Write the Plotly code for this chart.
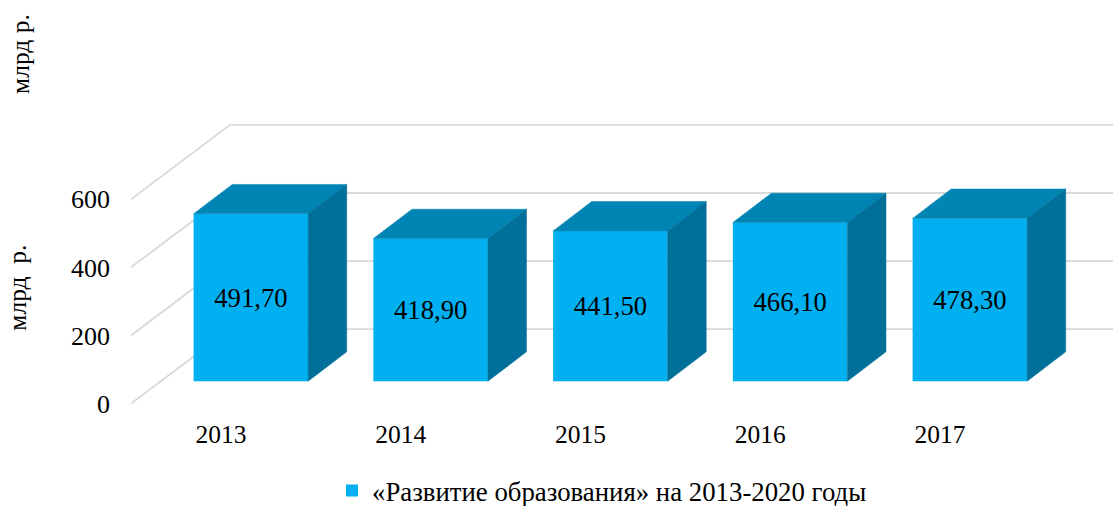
import plotly.graph_objects as go

categories = ["2013", "2014", "2015", "2016", "2017"]
values = [491.7, 418.9, 441.5, 466.1, 478.3]
labels = ["491,70", "418,90", "441,50", "466,10", "478,30"]
y_ticks = [0, 200, 400, 600]
series_name = "«Развитие образования» на 2013-2020 годы"
axis_title = "млрд  р."
extra_title = "млрд р."

FONT = "Liberation Serif"
FRONT, TOP, SIDE, GRID = "#00B0F0", "#0084B4", "#00709B", "#D9D9D9"

# pseudo-3D projection, in axis units
W, H = 1113, 506
PX_X, PX_Y = 179.75, 204.5 / 600
L, T_Y, B_Y = 131, 121.1, 407.4
wall_dx, wall_dy = 99 / PX_X, 74.5 / PX_Y
bar_shift, bar_base = 30 / PX_X, 65.7
bar_w, depth_dx, depth_dy = 0.637, 38.6 / PX_X, 86.3

xs = list(range(len(categories)))
centers = [x + bar_shift for x in xs]
x_range = [-0.5, -0.5 + (W - L) / PX_X]

fig = go.Figure()
fig.add_bar(x=centers, y=values, base=bar_base, width=bar_w, name=series_name,
            marker=dict(color=FRONT, line=dict(width=0)),
            text=labels, textposition="inside", insidetextanchor="middle",
            textangle=0, constraintext="none", cliponaxis=True,
            insidetextfont=dict(family=FONT, size=26.7, color="black"),
            hoverinfo="skip")

for c, v in zip(centers, values):
    xl, xr = c - bar_w / 2, c + bar_w / 2
    top = bar_base + v
    fig.add_scatter(x=[xl, xr, xr + depth_dx, xl + depth_dx, xl],
                    y=[top, top, top + depth_dy, top + depth_dy, top],
                    mode="lines", fill="toself", fillcolor=TOP, showlegend=False,
                    line=dict(color=TOP, width=0.5), hoverinfo="skip")
    fig.add_scatter(x=[xr, xr + depth_dx, xr + depth_dx, xr, xr],
                    y=[bar_base, bar_base + depth_dy, top + depth_dy, top, bar_base],
                    mode="lines", fill="toself", fillcolor=SIDE, showlegend=False,
                    line=dict(color=SIDE, width=0.5), hoverinfo="skip")

shapes = []
grid_line = dict(color=GRID, width=1.8)
for t in y_ticks:
    shapes.append(dict(type="line", layer="below", xref="x", yref="y", line=grid_line,
                       x0=-0.5, y0=t, x1=-0.5 + wall_dx, y1=t + wall_dy))
    shapes.append(dict(type="line", layer="below", xref="x", yref="y", line=grid_line,
                       x0=-0.5 + wall_dx, y0=t + wall_dy, x1=x_range[1], y1=t + wall_dy))

plot_h = B_Y - T_Y
annotations = [
    dict(text=axis_title, textangle=-90, xref="paper", yref="paper", showarrow=False,
         x=(18 - L) / (W - L), y=(B_Y - 288) / plot_h, xanchor="center", yanchor="middle",
         font=dict(family=FONT, size=25.5, color="black")),
    dict(text=extra_title, textangle=-90, xref="paper", yref="paper", showarrow=False,
         x=(21 - L) / (W - L), y=(B_Y - 54) / plot_h, xanchor="center", yanchor="middle",
         font=dict(family=FONT, size=25.5, color="black")),
]

fig.update_layout(
    width=W, height=506, paper_bgcolor="white", plot_bgcolor="white",
    margin=dict(l=L, r=0, t=T_Y, b=H - B_Y, pad=0, autoexpand=False),
    font=dict(family=FONT, color="black"),
    shapes=shapes, annotations=annotations, showlegend=True,
    legend=dict(orientation="h", x=(372 - 40 - L) / (W - L), xanchor="left",
                y=-(491 - B_Y) / plot_h, yanchor="middle",
                font=dict(family=FONT, size=26.8), bgcolor="rgba(0,0,0,0)"),
    xaxis=dict(range=x_range, tickmode="array", tickvals=xs, ticktext=categories,
               showgrid=False, zeroline=False, showline=False, ticks="",
               tickfont=dict(family=FONT, size=25.5), ticklabelstandoff=9),
    yaxis=dict(range=[-10, 830], tickmode="array", tickvals=y_ticks,
               showgrid=False, zeroline=False, showline=False, ticks="",
               tickfont=dict(family=FONT, size=26), ticklabelstandoff=20),
)

fig.write_html("out.html", post_script="document.body.style.margin='0';",
               config={"displayModeBar": False})
